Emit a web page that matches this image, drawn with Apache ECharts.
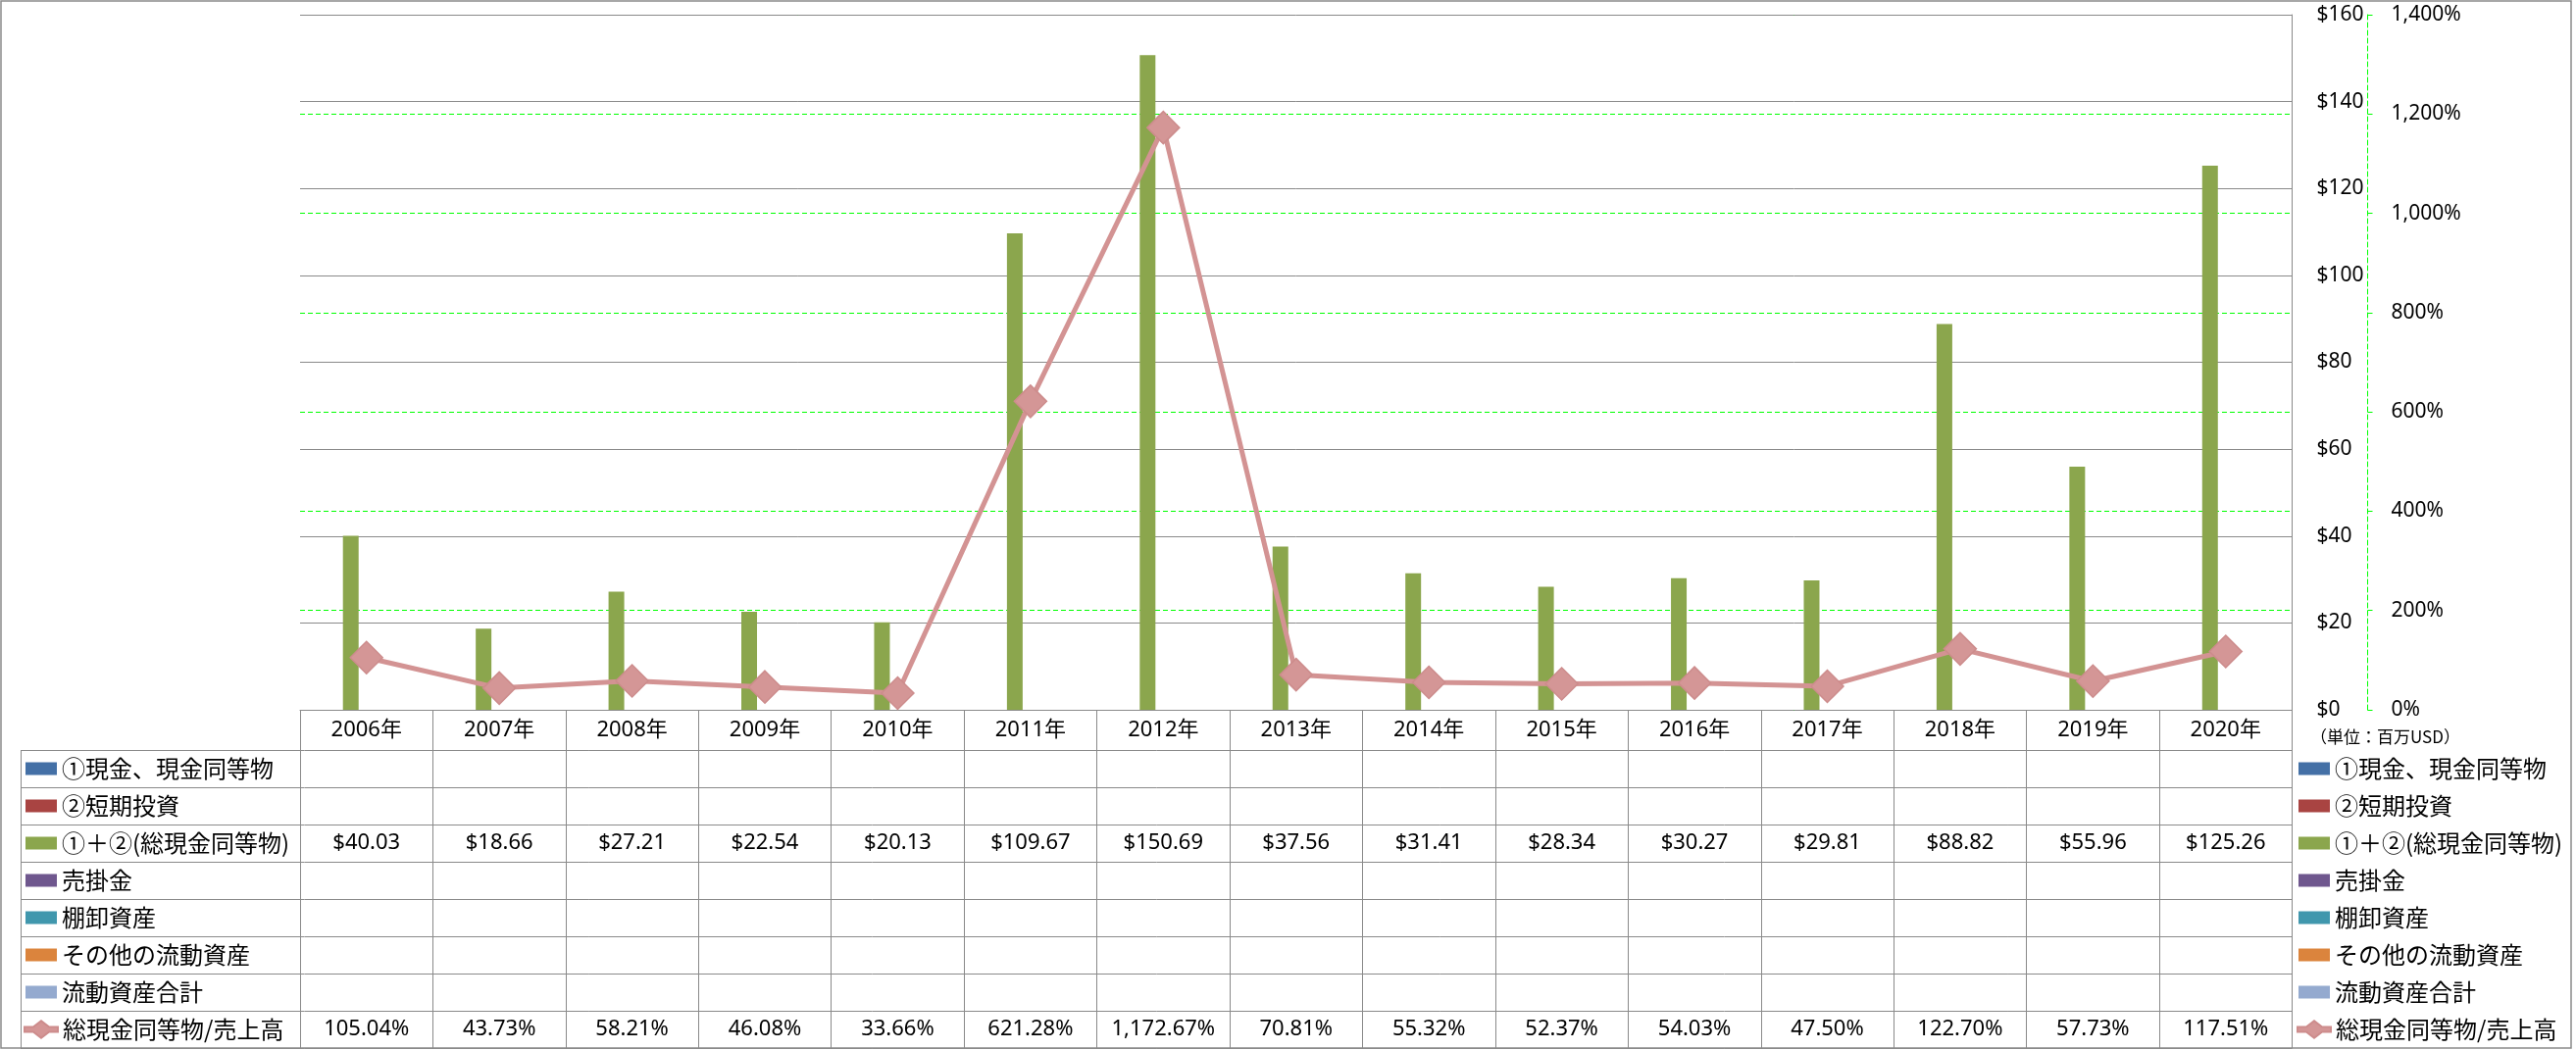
<!DOCTYPE html>
<html><head><meta charset="utf-8">
<script src="https://cdn.jsdelivr.net/npm/echarts@6/dist/echarts.min.js"></script>
<style>html,body{margin:0;padding:0;background:#fff;overflow:hidden}#c{width:2627px;height:1071px}</style>
</head><body><div id="c"></div>
<script>
// ---------- data ----------
const years = ['2006年','2007年','2008年','2009年','2010年','2011年','2012年','2013年','2014年','2015年','2016年','2017年','2018年','2019年','2020年'];
const cashEquivalents = [];
const shortTermInvestments = [];
const totalCash = [40.03, 18.66, 27.21, 22.54, 20.13, 109.67, 150.69, 37.56, 31.41, 28.34, 30.27, 29.81, 88.82, 55.96, 125.26];
const receivables = [];
const inventory = [];
const otherCurrentAssets = [];
const totalCurrentAssets = [];
const cashToSales = [105.04, 43.73, 58.21, 46.08, 33.66, 621.28, 1172.67, 70.81, 55.32, 52.37, 54.03, 47.50, 122.70, 57.73, 117.51];
const barNames = ['①現金、現金同等物','②短期投資','①＋②(総現金同等物)','売掛金','棚卸資産','その他の流動資産','流動資産合計'];
const lineName = '総現金同等物/売上高';
const usdAxis = {min: 0, max: 160, interval: 20};
const pctAxis = {min: 0, max: 1400, interval: 200};
const unitLabel = '（単位：百万USD）';

// ---------- style / layout ----------
const barColors = ['#4470A6','#A94442','#8BA64D','#6F578E','#4097AD','#DB843D','#94AACF'];
const lineColor = '#D39393';
const gray = '#8A8A8A';
const green = '#00FF00';
const NUM_FONT = '"Noto Sans", "Noto Sans CJK JP", sans-serif';
const JP_FONT = '"Noto Sans CJK JP", sans-serif';
const G = {left: 306, right: 2337.5, top: 15, bottom: 724};
const rowTop = 765, rowH = 38, nRows = 8, tableLeft = 21;
const tableBottom = rowTop + rowH * nRows;

const barData = [cashEquivalents, shortTermInvestments, totalCash, receivables, inventory, otherCurrentAssets, totalCurrentAssets];

const fmtUSD = v => '$' + v.toFixed(2);
const fmtPct = v => v.toLocaleString('en-US', {minimumFractionDigits: 2, maximumFractionDigits: 2}) + '%';

function rowAxis(labels, rowIndex) {
  return {
    type: 'category', gridIndex: 0, position: 'bottom',
    offset: (rowTop - G.bottom) + rowH * rowIndex,
    data: labels,
    axisLine: {show: false}, axisTick: {show: false}, splitLine: {show: false},
    axisLabel: {interval: 0, margin: rowH / 2, verticalAlign: 'middle', color: '#000', fontSize: 22, fontFamily: NUM_FONT}
  };
}

const series = barNames.map((n, i) => ({
  name: n, type: 'bar', xAxisIndex: 0, yAxisIndex: 0,
  data: barData[i], barWidth: 16, barGap: '0%',
  itemStyle: {color: barColors[i]}
}));
series.push({
  name: lineName, type: 'line', xAxisIndex: 0, yAxisIndex: 1,
  data: cashToSales, symbol: 'diamond', symbolSize: 33,
  lineStyle: {color: lineColor, width: 5},
  itemStyle: {color: '#D49696', borderColor: '#CD8C8C', borderWidth: 1.5},
  z: 5
});

// table lines
const graphics = [];
for (let r = 0; r <= nRows; r++) {
  const y = rowTop + rowH * r + 0.5;
  graphics.push({type: 'line', silent: true, shape: {x1: tableLeft, y1: y, x2: G.right, y2: y}, style: {stroke: gray, lineWidth: 1}});
}
graphics.push({type: 'line', silent: true, shape: {x1: tableLeft + 0.5, y1: rowTop, x2: tableLeft + 0.5, y2: tableBottom}, style: {stroke: gray, lineWidth: 1}});
graphics.push({type: 'rect', silent: true, shape: {x: 1, y: 1, width: 2621, height: 1068}, style: {fill: null, stroke: gray, lineWidth: 1.5}});
graphics.push({type: 'text', silent: true, x: 2356, y: 752, style: {text: unitLabel, fontSize: 17, fontFamily: JP_FONT, fill: '#000', verticalAlign: 'middle'}});

const lineIcon = 'path://M0,6.5 L9.2,6.5 L17.5,0 L25.8,6.5 L35,6.5 L35,11.5 L25.8,11.5 L17.5,18 L9.2,11.5 L0,11.5 Z';
const legendText = {fontSize: 24, lineHeight: 26, fontFamily: JP_FONT, color: '#000'};

const option = {
  backgroundColor: '#fff',
  animation: false,
  grid: {left: G.left, right: 2627 - G.right, top: G.top, bottom: 1071 - G.bottom, containLabel: false},
  xAxis: [
    {
      type: 'category', data: years, position: 'bottom',
      axisLine: {show: true, lineStyle: {color: gray, width: 1}},
      axisTick: {show: true, interval: 0, length: tableBottom - G.bottom, lineStyle: {color: gray, width: 1}},
      axisLabel: {interval: 0, margin: (rowTop - G.bottom) / 2, verticalAlign: 'middle', color: '#000', fontSize: 22, fontFamily: NUM_FONT},
      splitLine: {show: false}
    },
    rowAxis(totalCash.map(fmtUSD), 2),
    rowAxis(cashToSales.map(fmtPct), 7)
  ],
  yAxis: [
    {
      type: 'value', position: 'right', min: usdAxis.min, max: usdAxis.max, interval: usdAxis.interval, z: 2,
      axisLine: {show: true, lineStyle: {color: gray, width: 1}},
      axisTick: {show: false},
      splitLine: {show: true, lineStyle: {color: gray, width: 1}},
      axisLabel: {margin: 25, color: '#000', fontSize: 21, fontFamily: NUM_FONT, formatter: v => '$' + v}
    },
    {
      type: 'value', position: 'right', offset: 77, min: pctAxis.min, max: pctAxis.max, interval: pctAxis.interval, z: 1,
      axisLine: {show: true, lineStyle: {color: green, width: 1, type: [5, 3]}},
      axisTick: {show: true, length: 7, lineStyle: {color: green, width: 1, type: [5, 3]}},
      splitLine: {show: true, lineStyle: {color: green, width: 1, type: [5, 3]}},
      axisLabel: {margin: 24, color: '#000', fontSize: 21, fontFamily: NUM_FONT, formatter: v => v.toLocaleString('en-US') + '%'}
    }
  ],
  legend: [
    {data: barNames, orient: 'vertical', left: 26, top: rowTop + rowH / 2 - 13, padding: 0, itemGap: rowH - 26,
     itemWidth: 32, itemHeight: 13, icon: 'rect', selectedMode: false, textStyle: legendText},
    {data: [{name: lineName, icon: lineIcon}], orient: 'vertical', left: 24, top: rowTop + rowH * 7 + rowH / 2 - 13, padding: 0,
     itemWidth: 34, itemHeight: 18, selectedMode: false, textStyle: legendText},
    {data: barNames, orient: 'vertical', left: 2344, top: rowTop + rowH / 2 - 13, padding: 0, itemGap: rowH - 26,
     itemWidth: 32, itemHeight: 13, icon: 'rect', selectedMode: false, textStyle: legendText},
    {data: [{name: lineName, icon: lineIcon}], orient: 'vertical', left: 2342, top: rowTop + rowH * 7 + rowH / 2 - 13, padding: 0,
     itemWidth: 34, itemHeight: 18, selectedMode: false, textStyle: legendText}
  ],
  graphic: graphics,
  series: series
};

const chart = echarts.init(document.getElementById('c'), null, {renderer: 'canvas'});
chart.setOption(option);
</script></body></html>
